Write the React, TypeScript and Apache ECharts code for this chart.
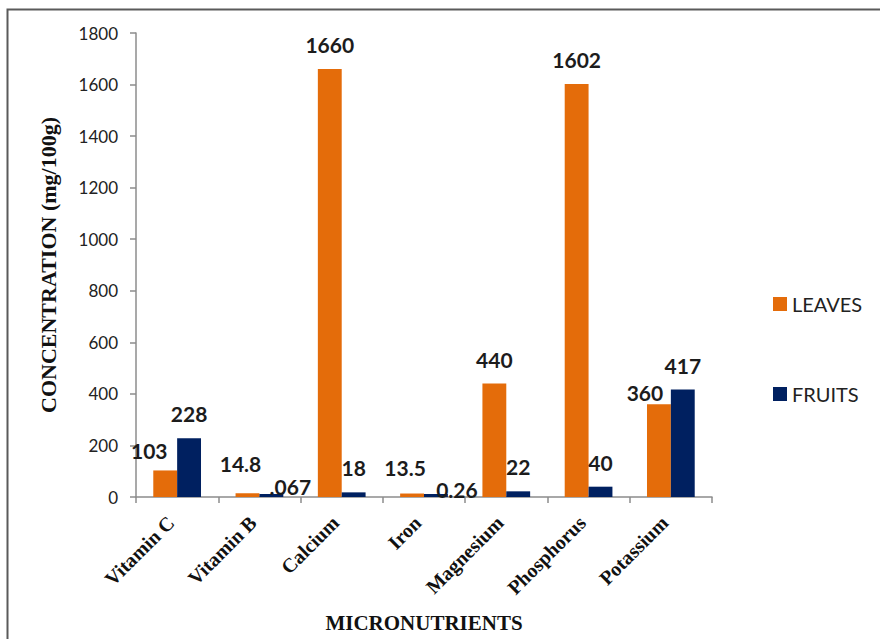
import React, { useEffect, useRef } from "react";
import * as echarts from "echarts";

const categories = ["Vitamin C", "Vitamin B", "Calcium", "Iron", "Magnesium", "Phosphorus", "Potassium"];
const leavesValues = [103, 14.8, 1660, 13.5, 440, 1602, 360];
const fruitsValues = [228, 0.067, 18, 0.26, 22, 40, 417];
const leavesLabels = ["103", "14.8", "1660", "13.5", "440", "1602", "360"];
const fruitsLabels = ["228", ".067", "18", "0.26", "22", "40", "417"];
const yTicks = { min: 0, max: 1800, interval: 200 };

// label nudges (x, y) in pixels, mirroring the reference's hand-placed labels
const leavesLabelOffsets: Record<string, [number, number]> = {
  "Vitamin C": [-16, 5],
  "Vitamin B": [-7, -5],
  Iron: [-7, -2],
  Potassium: [-14, 13],
};
const fruitsLabelOffsets: Record<string, [number, number]> = {
  "Vitamin B": [19, 17],
  Iron: [21, 20],
};

const LABEL_FONT = "Lato, 'Noto Sans', sans-serif";
const SERIF = "'Liberation Serif', 'DejaVu Serif', serif";

function buildData(values: number[], labels: string[], offsets: Record<string, [number, number]>) {
  return values.map((v, i) => ({
    value: v,
    label: { formatter: labels[i], offset: offsets[categories[i]] || [0, 0] },
  }));
}

export default function App() {
  const ref = useRef<HTMLDivElement>(null);
  useEffect(() => {
    if (!ref.current) return;
    const chart = echarts.init(ref.current, undefined, { renderer: "svg" });
    const labelStyle = {
      show: true,
      position: "top" as const,
      distance: 14,
      fontFamily: LABEL_FONT,
      fontWeight: "bold" as const,
      fontSize: 21,
      color: "#1c1c1c",
    };
    chart.setOption({
      animation: false,
      backgroundColor: "#ffffff",
      graphic: [
        {
          type: "rect",
          shape: { x: 7.5, y: 9.5, width: 1000, height: 1000 },
          style: { fill: "none", stroke: "#5a5a5a", lineWidth: 2 },
          silent: true,
        },
      ],
      legend: {
        orient: "vertical",
        left: 768,
        top: 289,
        itemWidth: 14,
        itemHeight: 14,
        itemGap: 70,
        icon: "rect",
        textStyle: { fontFamily: LABEL_FONT, fontSize: 20, color: "#222222" },
        data: ["LEAVES", "FRUITS"],
      },
      grid: { left: 136, right: 168, top: 33, bottom: 142, containLabel: false },
      xAxis: {
        type: "category",
        data: categories,
        name: "MICRONUTRIENTS",
        nameLocation: "middle",
        nameGap: 115,
        nameTextStyle: { fontFamily: SERIF, fontWeight: "bold", fontSize: 21, color: "#111111" },
        axisLine: { lineStyle: { color: "#8c8c8c", width: 1.5 } },
        axisTick: { show: true, length: 6, lineStyle: { color: "#8c8c8c", width: 1.5 } },
        axisLabel: {
          rotate: 45,
          margin: 16,
          padding: [0, 9, 0, 0],
          fontFamily: SERIF,
          fontWeight: "bold",
          fontSize: 20,
          color: "#111111",
        },
      },
      yAxis: {
        type: "value",
        min: yTicks.min,
        max: yTicks.max,
        interval: yTicks.interval,
        name: "CONCENTRATION (mg/100g)",
        nameLocation: "middle",
        nameGap: 77,
        nameTextStyle: { fontFamily: SERIF, fontWeight: "bold", fontSize: 22, color: "#111111" },
        axisLine: { show: true, lineStyle: { color: "#8c8c8c", width: 1.5 } },
        axisTick: { show: true, length: 6, lineStyle: { color: "#8c8c8c", width: 1.5 } },
        splitLine: { show: false },
        axisLabel: {
          margin: 18,
          formatter: (v: number) => String(v),
          fontFamily: LABEL_FONT,
          fontSize: 17,
          color: "#222222",
        },
      },
      series: [
        {
          name: "LEAVES",
          type: "bar",
          barGap: "0%",
          barCategoryGap: "42%",
          barMinHeight: 3,
          itemStyle: { color: "#E46C0A" },
          label: labelStyle,
          data: buildData(leavesValues, leavesLabels, leavesLabelOffsets),
        },
        {
          name: "FRUITS",
          type: "bar",
          barGap: "0%",
          barCategoryGap: "42%",
          barMinHeight: 3,
          itemStyle: { color: "#002060" },
          label: labelStyle,
          data: buildData(fruitsValues, fruitsLabels, fruitsLabelOffsets),
        },
      ],
    });
    return () => chart.dispose();
  }, []);
  return (
    <div
      ref={ref}
      style={{ position: "absolute", left: 0, top: 0, width: 880, height: 639, background: "#fff" }}
    />
  );
}
